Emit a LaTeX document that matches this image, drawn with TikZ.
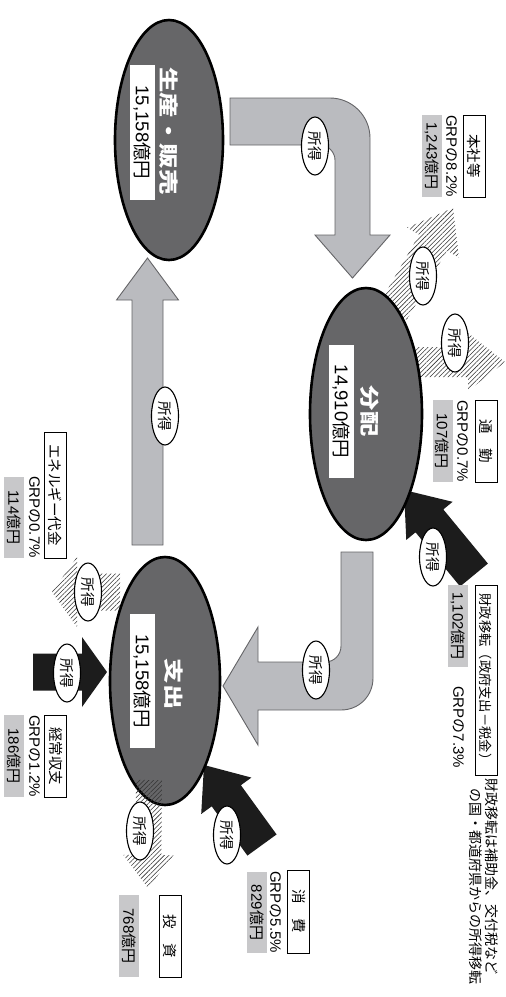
\documentclass[tikz,border=0pt]{standalone}
\usepackage{fontspec}
\setmainfont{Noto Sans CJK JP}
\newfontfamily\ttlfont[FakeStretch=1.3]{Noto Sans CJK JP}
\newfontfamily\lat{Liberation Sans}
\usetikzlibrary{shapes.geometric,calc,patterns.meta}

\definecolor{ellfill}{RGB}{102,102,104}
\definecolor{arrfill}{RGB}{186,187,191}
\definecolor{arredge}{RGB}{100,100,103}
\definecolor{amtfill}{RGB}{200,200,202}
\definecolor{blk}{RGB}{28,28,28}

\tikzset{
 hub/.style={ellipse, draw=black, line width=2.6pt, fill=ellfill, inner sep=0pt},
 inbox/.style={rotate=-90, fill=white, inner sep=0pt, minimum height=25pt, font=\fontsize{18.5}{18.5}\selectfont},
 hubtitle/.style={rotate=-90, text=white, inner sep=0pt, font=\ttlfont\bfseries\fontsize{19.5}{19.5}\selectfont},
 oval/.style={ellipse, rotate=-90, draw=black, line width=1.1pt, fill=white, minimum width=58pt, minimum height=27pt, inner sep=0pt, font=\fontsize{14.5}{14.5}\selectfont},
 titlebox/.style={rotate=-90, draw=black, line width=0.9pt, fill=white, minimum height=22pt, inner sep=0pt, font=\fontsize{14.5}{14.5}\selectfont},
 pcttext/.style={rotate=-90, inner sep=0pt, font=\fontsize{15}{15}\selectfont},
 amtbox/.style={rotate=-90, fill=amtfill, minimum height=20pt, inner sep=0pt, font=\fontsize{15}{15}\selectfont},
 grayarrow/.style={fill=arrfill, draw=arredge, line width=0.9pt},
 hatcharrow/.style={pattern={Lines[angle=45,distance=3.2pt,line width=0.55pt]}, pattern color=black!80},
 blackarrow/.style={fill=blk},
}

% #1 style, #2 start, #3 apex, #4 shaft half width, #5 head half width, #6 head length
\newcommand{\blockarr}[6]{%
 \coordinate (ba-b) at ($(#3)!#6!(#2)$);
 \path[#1] ($(#2)!#4!90:(#3)$) -- ($(ba-b)!#4!90:(#3)$) -- ($(ba-b)!#5!90:(#3)$) -- (#3)
   -- ($(ba-b)!#5!-90:(#3)$) -- ($(ba-b)!#4!-90:(#3)$) -- ($(#2)!#4!-90:(#3)$) -- cycle;}

\begin{document}
\begin{tikzpicture}[x=1pt, y=-1pt]
\useasboundingbox (0,0) rectangle (506,997);

% ---- big gray flow arrows ----
\path[grayarrow] (230,98) -- (330,98) .. controls (352,98) and (370,116) .. (370,138)
  -- (370,235) -- (390,235) -- (352.5,278) -- (315,235) -- (335,235) -- (335,160)
  .. controls (335,152) and (328,145) .. (320,145) -- (230,145) -- cycle;
\path[grayarrow] (341,552) -- (373,552) -- (373,678) .. controls (373,696) and (359,710) .. (341,710)
  -- (258,710) -- (258,745) -- (223,686) -- (258,627) -- (258,662) -- (325,662)
  .. controls (334,662) and (341,655) .. (341,646) -- cycle;
\coordinate (cS) at (147.5,545);
\coordinate (cA) at (147.5,258);
\blockarr{grayarrow}{cS}{cA}{15.5pt}{31pt}{42pt}

% ---- hatched arrows ----
\coordinate (h1S) at (393,312); \coordinate (h1A) at (453,208);
\blockarr{hatcharrow}{h1S}{h1A}{16pt}{30pt}{40pt}
\coordinate (h2S) at (405,362); \coordinate (h2A) at (505,362);
\blockarr{hatcharrow}{h2S}{h2A}{15pt}{29pt}{37pt}
\coordinate (h3S) at (120,592); \coordinate (h3A) at (52,592);
\blockarr{hatcharrow}{h3S}{h3A}{18.5pt}{35pt}{25pt}

% ---- black arrows ----
\coordinate (b5S) at (474,575); \coordinate (b5A) at (404,490);
\blockarr{blackarrow}{b5S}{b5A}{18pt}{30pt}{40pt}
\coordinate (b6S) at (262,845); \coordinate (b6A) at (204,765);
\blockarr{blackarrow}{b6S}{b6A}{18pt}{31pt}{38pt}
\coordinate (b7S) at (33,672); \coordinate (b7A) at (107,672);
\blockarr{blackarrow}{b7S}{b7A}{18.5pt}{35pt}{25pt}

% ---- hubs ----
\node[hub, minimum width=108pt, minimum height=240pt] (sei) at (169,140) {};
\node[hub, minimum width=112pt, minimum height=252pt] (bun) at (366,414) {};
\node[hub, minimum width=110pt, minimum height=248pt] (shi) at (165,681) {};

\coordinate (h4S) at (149,780); \coordinate (h4A) at (148,888);
\blockarr{hatcharrow}{h4S}{h4A}{13pt}{25pt}{33pt}

\node[inbox, minimum width=135pt] (seiamt) at (142.5,132.5) {{\lat 15,158}億円};
\node[hubtitle] (seittl) at (169,131) {生産・販売};
\node[inbox, minimum width=133pt] (bunamt) at (341.5,411.5) {{\lat 14,910}億円};
\node[hubtitle] (bunttl) at (370,411) {分配};
\node[inbox, minimum width=134pt] (shiamt) at (142.5,681) {{\lat 15,158}億円};
\node[hubtitle] (shittl) at (174,684) {支出};

% ---- income ovals ----
\node[oval] (o1) at (315,146) {所得};
\node[oval] (o2) at (423,276) {所得};
\node[oval] (o3) at (455,343) {所得};
\node[oval] (o4) at (165,416) {所得};
\node[oval] (o5) at (316,670) {所得};
\node[oval] (o6) at (433,557) {所得};
\node[oval] (o7) at (88,592) {所得};
\node[oval] (o8) at (67,673) {所得};
\node[oval] (o9) at (227,835) {所得};
\node[oval] (o10) at (140,831) {所得};

% ---- labels ----
\node[titlebox, minimum width=82pt] (honT) at (474,156) {本社等};
\node[pcttext] (honP) at (451.5,156) {{\lat GRP}の{\lat 8.2\%}};
\node[amtbox, minimum width=82pt] (honA) at (432,156) {{\lat 1,243}億円};

\node[titlebox, minimum width=82pt] (tsuT) at (486,441) {通　勤};
\node[pcttext] (tsuP) at (462.5,441) {{\lat GRP}の{\lat 0.7\%}};
\node[amtbox, minimum width=82pt] (tsuA) at (442.5,441) {{\lat 107}億円};

\node[titlebox, minimum width=190pt, font=\fontsize{13.3}{13.3}\selectfont] (zaiT) at (486,680) {財政移転（政府支出－税金）};
\node[amtbox, minimum width=82pt] (zaiA) at (458,626) {{\lat 1,102}億円};
\node[pcttext] (zaiP) at (458.5,727) {{\lat GRP}の{\lat 7.3\%}};

\node[rotate=-90, anchor=north west, align=left, inner sep=0pt, font=\fontsize{14}{16}\selectfont] (note) at (498,778)
  {財政移転は補助金、交付税など\\\hspace{0.7em}の国・都道府県からの所得移転};

\node[titlebox, minimum width=83pt] (shoT) at (298.5,911.5) {消　費};
\node[pcttext] (shoP) at (275.5,912) {{\lat GRP}の{\lat 5.5\%}};
\node[amtbox, minimum width=81pt] (shoA) at (257,912.5) {{\lat 829}億円};

\node[titlebox, minimum width=82pt] (toT) at (170,936) {投　資};
\node[amtbox, minimum width=82pt] (toA) at (129,936) {{\lat 768}億円};

\node[titlebox, minimum width=82pt] (keiT) at (55.5,756) {経常収支};
\node[pcttext] (keiP) at (34.5,756) {{\lat GRP}の{\lat 1.2\%}};
\node[amtbox, minimum width=82pt] (keiA) at (14,756) {{\lat 186}億円};

\node[titlebox, minimum width=126pt] (eneT) at (55.5,495) {エネルギー代金};
\node[pcttext, anchor=east] (eneP) at (34.5,558) {{\lat GRP}の{\lat 0.7\%}};
\node[amtbox, minimum width=81pt] (eneA) at (14,517.5) {{\lat 114}億円};
\end{tikzpicture}
\end{document}
